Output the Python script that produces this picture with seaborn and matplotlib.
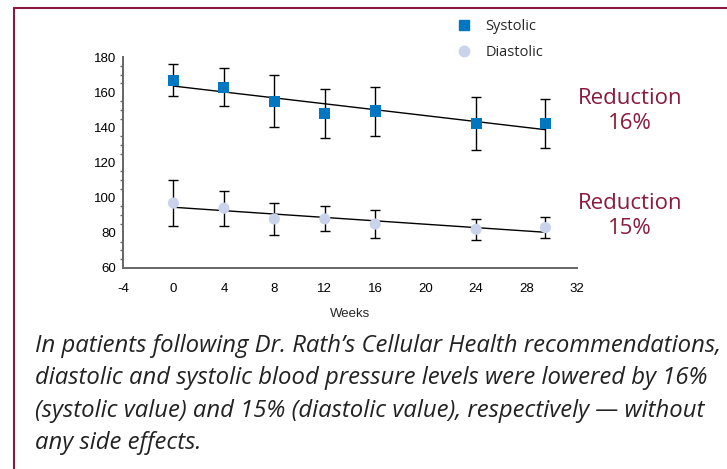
import numpy as np
import pandas as pd
import matplotlib
matplotlib.use("Agg")
import matplotlib.pyplot as plt
from matplotlib.lines import Line2D
from matplotlib.ticker import MultipleLocator
import seaborn as sns

# valores
weeks = [0, 4, 8, 12, 16, 24, 29.5]
systolic = [166.7, 162.5, 154.6, 148.0, 149.3, 142.3, 142.3]
systolic_hi = [176, 174, 170, 162, 163, 157, 156]
systolic_lo = [158, 152, 140, 134, 135, 127, 128]
diastolic = [96.9, 94.0, 87.9, 87.9, 85.0, 82.0, 83.0]
diastolic_hi = [110, 104, 97, 95, 93, 88, 89]
diastolic_lo = [84, 84, 79, 81, 77, 76, 77]
x_ticks = [-4, 0, 4, 8, 12, 16, 20, 24, 28, 32]
y_ticks = [60, 80, 100, 120, 140, 160, 180]
reduction_labels = ["Reduction\n16%", "Reduction\n15%"]
caption_lines = [
    "In patients following Dr. Rath\u2019s Cellular Health recommendations,",
    "diastolic and systolic blood pressure levels were lowered by 16%",
    "(systolic value) and 15% (diastolic value), respectively \u2014 without",
    "any side effects.",
]

sns.set_style("white")
plt.rcParams['font.family'] = ['Liberation Sans', 'DejaVu Sans']
plt.rcParams['axes.unicode_minus'] = False

blue = "#0077c0"
lilac = "#c9d4ec"
wine = "#8c1a3c"
axis_grey = "#666666"

df = pd.concat([
    pd.DataFrame({"week": weeks, "value": systolic, "hi": systolic_hi, "lo": systolic_lo, "serie": "Systolic"}),
    pd.DataFrame({"week": weeks, "value": diastolic, "hi": diastolic_hi, "lo": diastolic_lo, "serie": "Diastolic"}),
])

fig = plt.figure(figsize=(7.27, 4.69), dpi=100)
ax = fig.add_axes([123 / 727, 1 - 268 / 469, (577 - 123) / 727, (268 - 57) / 469])

# barras de error
for name in ["Systolic", "Diastolic"]:
    d = df[df.serie == name]
    ax.errorbar(d.week, d.value, yerr=[d.value - d.lo, d.hi - d.value], fmt="none",
                ecolor="black", elinewidth=1, capsize=3.5, capthick=1, zorder=2)
    # recta de regresion
    sns.regplot(data=d, x="week", y="value", scatter=False, ci=None, truncate=True,
                line_kws={"color": "black", "lw": 1, "zorder": 3}, ax=ax)

sns.scatterplot(data=df, x="week", y="value", hue="serie", style="serie",
                palette={"Systolic": blue, "Diastolic": lilac},
                markers={"Systolic": "s", "Diastolic": "o"},
                s=65, linewidth=0, zorder=4, legend=False, ax=ax)

ax.set_xlim(-4, 32)
ax.set_ylim(60, 180)
ax.set_xticks(x_ticks)
ax.set_yticks(y_ticks)
ax.yaxis.set_minor_locator(MultipleLocator(5))
ax.set_xlabel("Weeks", fontsize=9.5, labelpad=9)
ax.set_ylabel("")
sns.despine(ax=ax)
for s in ["left", "bottom"]:
    ax.spines[s].set_color(axis_grey)
    ax.spines[s].set_linewidth(1.4)
ax.tick_params(axis="both", which="major", direction="out", length=4, width=1.2,
               color=axis_grey, labelsize=9.5, pad=1, labelcolor="black")
ax.tick_params(axis="y", which="minor", direction="out", length=2, width=1, color=axis_grey, left=True)
ax.tick_params(axis="x", pad=7)

# leyenda
handles = [Line2D([], [], marker="s", color=blue, ls="none", markersize=7),
           Line2D([], [], marker="o", color=lilac, ls="none", markersize=7.5)]
fig.legend(handles, ["Systolic", "Diastolic"], loc="upper left", bbox_to_anchor=(436 / 727, 1 - 6 / 469),
           frameon=False, handletextpad=0.5, labelspacing=0.75,
           prop={"family": "Open Sans", "size": 10.5})

# textos de reduccion
fig.text(630 / 727, 1 - 111 / 469, reduction_labels[0], ha="center", va="center", color=wine,
         fontsize=16, family="Open Sans", linespacing=1.25)
fig.text(630 / 727, 1 - 216 / 469, reduction_labels[1], ha="center", va="center", color=wine,
         fontsize=16, family="Open Sans", linespacing=1.25)

# pie de figura
for i, line in enumerate(caption_lines):
    fig.text(35 / 727, 1 - (352 + 32.3 * i) / 469, line, ha="left", va="baseline", fontsize=17.2,
             family="Open Sans", style="italic", color="#222222")

# marco
fig.add_artist(Line2D([14 / 727, 14 / 727], [0, 1 - 8 / 469], transform=fig.transFigure, color=wine, lw=1.5))
fig.add_artist(Line2D([14 / 727, 1], [1 - 8 / 469, 1 - 8 / 469], transform=fig.transFigure, color=wine, lw=1.5))

fig.savefig("out.png", dpi=100)
